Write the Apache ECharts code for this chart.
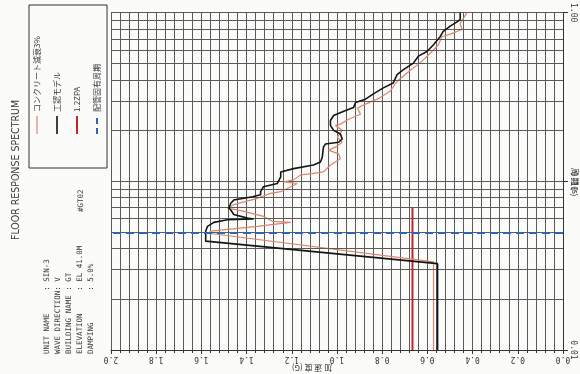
<!DOCTYPE html>
<html><head><meta charset="utf-8">
<script src="https://cdn.jsdelivr.net/npm/echarts@6/dist/echarts.min.js"></script>
<style>html,body{margin:0;padding:0;background:#fbfbfa}#c{width:580px;height:374px}</style>
</head><body><div id="c"></div>
<script>
// Acceleration (G) axis ticks and period (s) log grid lines
const accelTicks = [0.0, 0.2, 0.4, 0.6, 0.8, 1.0, 1.2, 1.4, 1.6, 1.8, 2.0];
const periodGridLines = [0.02,0.03,0.04,0.05,0.06,0.07,0.08,0.09,0.2,0.3,0.4,0.5,0.6,0.7,0.8,0.9];

// 工認モデル (black)
const modelAccel  = [0.455,0.455,0.469,0.499,0.530,0.543,0.574,0.602,0.640,0.662,0.706,0.734,0.751,0.795,0.839,0.874,0.918,0.927,0.962,1.015,1.029,1.029,1.015,0.985,0.977,0.993,1.051,1.060,1.065,1.073,1.104,1.192,1.249,1.249,1.264,1.325,1.338,1.338,1.374,1.457,1.470,1.479,1.470,1.457,1.396,1.369,1.485,1.545,1.573,1.581,1.581,0.555,0.555];
const modelPeriod = [1.0,0.910,0.882,0.831,0.774,0.723,0.643,0.588,0.552,0.502,0.459,0.429,0.383,0.358,0.330,0.307,0.293,0.2735,0.2627,0.2455,0.2295,0.2145,0.2005,0.1907,0.1782,0.1705,0.1666,0.1594,0.1392,0.1302,0.1250,0.1189,0.1137,0.1063,0.0971,0.0929,0.0868,0.0833,0.0811,0.0774,0.0741,0.0693,0.0676,0.0636,0.0605,0.0598,0.0592,0.0571,0.0541,0.0506,0.0442,0.0325,0.01];

// コンクリート減衰3% (rose)
const concreteAccel  = [0.425,0.455,0.447,0.499,0.536,0.552,0.580,0.618,0.653,0.690,0.734,0.764,0.817,0.879,0.909,0.896,0.949,0.985,1.007,0.977,0.999,0.977,1.007,1.038,0.993,0.985,1.029,1.060,1.110,1.161,1.192,1.236,1.176,1.220,1.249,1.294,1.352,1.457,1.485,1.426,1.325,1.286,1.205,1.280,1.352,1.558,1.567,0.573,0.573];
const concretePeriod = [1.0,0.862,0.795,0.746,0.720,0.643,0.588,0.525,0.480,0.439,0.392,0.343,0.309,0.285,0.2716,0.2498,0.2335,0.2183,0.2145,0.2005,0.1824,0.1705,0.1594,0.1530,0.1455,0.1361,0.1250,0.1137,0.1111,0.1092,0.1020,0.0993,0.0971,0.0907,0.0868,0.0848,0.0793,0.0728,0.0693,0.0671,0.0619,0.0579,0.0571,0.0556,0.0541,0.0506,0.0492,0.0333,0.01];

// 1.2ZPA (red vertical)
const zpaAccel  = [0.666, 0.666];
const zpaPeriod = [0.01, 0.070];

// 配管固有周期 (blue dashed horizontal)
const pipeAccel  = [0.0, 2.0];
const pipePeriod = [0.0494, 0.0494];

const zip = (a, b) => a.map((v, i) => [v, b[i]]);

const chart = echarts.init(document.getElementById('c'), null, {renderer: 'canvas'});
const gridColor = '#5a5a5a';
const mono = "'DejaVu Sans Mono','Liberation Mono',monospace";
const jp = "'Noto Sans CJK JP','Noto Sans',sans-serif";
const R = Math.PI / 2;

function vtext(x, y, text, size, family) {
  return {
    type: 'text', x: x, y: y, rotation: R, z: 10,
    style: {text: text, fontSize: size, fontFamily: family, fill: '#3a3a3a', align: 'left', verticalAlign: 'middle'}
  };
}

const legendItems = [
  {x: 37, color: '#d8866f', w: 1.2, dash: null, text: 'コンクリート減衰3%'},
  {x: 57, color: '#111', w: 1.6, dash: null, text: '工認モデル'},
  {x: 77, color: '#c8242b', w: 2, dash: null, text: '1.2ZPA'},
  {x: 97, color: '#2a66b4', w: 2, dash: [6, 4], text: '配管固有周期'}
];
const graphics = [
  {type: 'rect', shape: {x: 29, y: 5, width: 78, height: 163}, style: {fill: 'none', stroke: '#333', lineWidth: 1}},
  vtext(16, 170, 'FLOOR RESPONSE SPECTRUM', 10.5, "'DejaVu Sans Condensed','DejaVu Sans',sans-serif"),
  vtext(47, 354, 'UNIT NAME     : SIN-3', 7.5, mono),
  vtext(58, 354, 'WAVE DIRECTION: V', 7.5, mono),
  vtext(69, 354, 'BUILDING NAME : GT', 7.5, mono),
  vtext(80, 354, 'ELEVATION     : EL 41.0M', 7.5, mono),
  vtext(81, 212, '#GT02', 7.5, mono),
  vtext(91, 354, 'DAMPING       : 5.0%', 7.5, mono)
];
graphics[1].style.align = 'center';
legendItems.forEach(it => {
  graphics.push({type: 'line', shape: {x1: it.x, y1: 134, x2: it.x, y2: 116},
    style: {stroke: it.color, lineWidth: it.w, lineDash: it.dash}});
  graphics.push(vtext(it.x, 112, it.text, 8, jp));
});
graphics.push({type: 'text', x: 312, y: 368, rotation: Math.PI, z: 10,
  style: {text: '加 速 度 (G)', fontSize: 8, fontFamily: jp, fill: '#333', align: 'center', verticalAlign: 'middle'}});
graphics.push({type: 'text', x: 575, y: 182, rotation: -R, z: 10,
  style: {text: '周 期 (s)', fontSize: 8, fontFamily: jp, fill: '#333', align: 'center', verticalAlign: 'middle'}});

chart.setOption({
  animation: false,
  backgroundColor: '#fbfbfa',
  grid: {left: 111, right: 17, top: 9, bottom: 24},
  xAxis: {
    type: 'value', min: 0, max: 2, interval: 0.2, inverse: true,
    axisLine: {show: true, lineStyle: {color: '#333', width: 1}},
    axisTick: {show: true, length: 4, lineStyle: {color: '#333'}},
    minorTick: {show: true, splitNumber: 5, length: 3, lineStyle: {color: '#333'}},
    splitLine: {show: true, lineStyle: {color: gridColor, width: 1}},
    minorSplitLine: {show: true, lineStyle: {color: gridColor, width: 1}},
    axisLabel: {rotate: 180, fontSize: 8, color: '#333', margin: 5, fontFamily: mono,
      formatter: v => { const t = accelTicks.find(a => Math.abs(a - v) < 1e-6); return t === undefined ? '' : t.toFixed(1); }}
  },
  yAxis: {
    type: 'log', logBase: 10, min: 0.01, max: 1, position: 'right',
    axisLine: {show: true, lineStyle: {color: '#333', width: 1}},
    axisTick: {show: true, length: 5, lineStyle: {color: '#333'}},
    splitLine: {show: true, lineStyle: {color: gridColor, width: 1}},
    axisLabel: {rotate: -90, fontSize: 8, color: '#333', margin: 6, fontFamily: mono,
      formatter: v => Number(v).toFixed(2)}
  },
  graphic: graphics,
  series: [
    {type: 'line', name: 'grid', data: [[0, 0.01]], symbol: 'none', z: 1, silent: true,
      lineStyle: {opacity: 0},
      markLine: {silent: true, symbol: 'none', label: {show: false}, animation: false,
        lineStyle: {color: gridColor, width: 1, type: 'solid'},
        data: periodGridLines.map(v => ({yAxis: v}))}},
    {type: 'line', name: '1.2ZPA', data: zip(zpaAccel, zpaPeriod), symbol: 'none', z: 3,
      lineStyle: {color: '#c8242b', width: 2}},
    {type: 'line', name: 'コンクリート減衰3%', data: zip(concreteAccel, concretePeriod), symbol: 'none', z: 4,
      lineStyle: {color: '#d8866f', width: 1.2}},
    {type: 'line', name: '工認モデル', data: zip(modelAccel, modelPeriod), symbol: 'none', z: 5,
      lineStyle: {color: '#151515', width: 1.6}},
    {type: 'line', name: '配管固有周期', data: zip(pipeAccel, pipePeriod), symbol: 'none', z: 6,
      lineStyle: {color: '#2a66b4', width: 2, type: [8, 5]}}
  ]
});
</script></body></html>
